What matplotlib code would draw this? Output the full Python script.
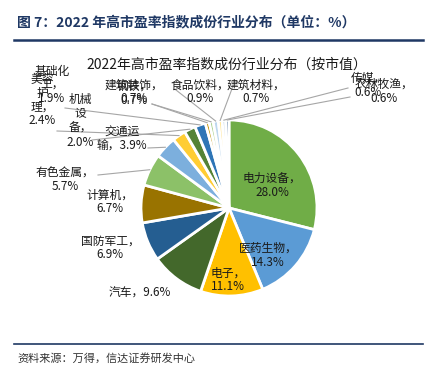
import matplotlib
matplotlib.use("Agg")
import matplotlib.pyplot as plt
import numpy as np

plt.rcParams['font.family'] = ['Noto Sans CJK SC', 'DejaVu Sans']

# 行业与占比（按市值，%）
industries = ['电力设备', '医药生物', '电子', '汽车', '国防军工', '计算机', '有色金属',
              '交通运输', '美容护理', '机械设备', '基础化工', '建筑装饰', '钢铁',
              '食品饮料', '建筑材料', '传媒', '农林牧渔']
shares = [28.0, 14.3, 11.1, 9.6, 6.9, 6.7, 5.7, 3.9, 2.4, 2.0, 1.9, 0.7, 0.7, 0.9, 0.7, 0.6, 0.6]
colors = ['#70AD47', '#5B9BD5', '#FFC000', '#43682B', '#255E91', '#997300', '#8CC168',
          '#7CAFDD', '#FFCD33', '#548235', '#2E75B6', '#C09000', '#A9D18E', '#BDD7EE',
          '#FFE699', '#9DB8D9', '#5F7FA6']

# 标签文字（与 Excel 中的换行一致）
label_texts = ['电力设备，\n28.0%', '医药生物，\n14.3%', '电子，\n11.1%', '汽车，9.6%',
               '国防军工，\n6.9%', '计算机，\n6.7%', '有色金属，\n5.7%', '交通运\n输，3.9%',
               '美容\n护\n理，\n2.4%', '机械\n设\n备，\n2.0%', '基础化\n工，\n1.9%',
               '建筑装饰，\n0.7%', '钢铁，\n0.7%', '食品饮料，\n0.9%', '建筑材料，\n0.7%',
               '传媒，\n0.6%', '农林牧渔，\n0.6%']

W, H = 428, 380


def px(x, y):
    # 像素坐标 -> 数据坐标（y 轴向上）
    return x, H - y


# 标签位置（像素）与引线起点（像素，None 表示无引线）
label_pos = [(272, 185), (268, 255), (228, 280), (140, 293), (110, 248), (110, 202),
             (65, 180), (122, 139), (42, 100), (80, 121), (52, 85), (134, 92),
             (134, 93), (200, 92), (256, 92), (368, 85), (384, 91)]
leader_from = [None, None, None, None, None, None, (98, 175), (148, 148), (57, 131),
               (92, 140), (65, 108), (152, 104), (152, 104), (176, 90), (233, 86),
               (348, 88), (350, 97)]

fig = plt.figure(figsize=(W / 100, H / 100), dpi=100)
ax = fig.add_axes([0, 0, 1, 1])

cx, cy = px(229, 208)
radius = 88
wedges, _ = ax.pie(shares, colors=colors, startangle=90, counterclock=False,
                   center=(cx, cy), radius=radius,
                   wedgeprops=dict(edgecolor='white', linewidth=2.0))

for i, w in enumerate(wedges):
    lx, ly = px(*label_pos[i])
    ax.text(lx, ly, label_texts[i], ha='center', va='center', fontsize=8.5,
            linespacing=1.1, color='#1a1a1a')
    if leader_from[i] is not None:
        ang = np.deg2rad((w.theta1 + w.theta2) / 2)
        ex = cx + radius * np.cos(ang)
        ey = cy + radius * np.sin(ang)
        sx, sy = px(*leader_from[i])
        ax.plot([sx, ex], [sy, ey], color='#A6A6A6', linewidth=0.8)

ax.text(*px(227, 65), '2022年高市盈率指数成份行业分布（按市值）', ha='center', va='center',
        fontsize=10, color='#1a1a1a')

# 报告标题与分隔线
ax.text(*px(17, 22), '图 7：2022 年高市盈率指数成份行业分布（单位：%）', ha='left',
        va='center', fontsize=10, fontweight='bold', color='#1F3864')
ax.plot([px(14, 40)[0], px(423, 40)[0]], [px(14, 40)[1], px(423, 40)[1]],
        color='#1F3864', linewidth=1.8)
ax.plot([px(14, 344)[0], px(423, 344)[0]], [px(14, 344)[1], px(423, 344)[1]],
        color='#1F3864', linewidth=1.2)
ax.text(*px(17, 358), '资料来源：万得，信达证券研发中心', ha='left', va='center',
        fontsize=8, style='italic', color='#333333')

ax.set_xlim(0, W)
ax.set_ylim(0, H)
ax.set_aspect('equal')
ax.axis('off')

fig.savefig('out.png', dpi=100)
